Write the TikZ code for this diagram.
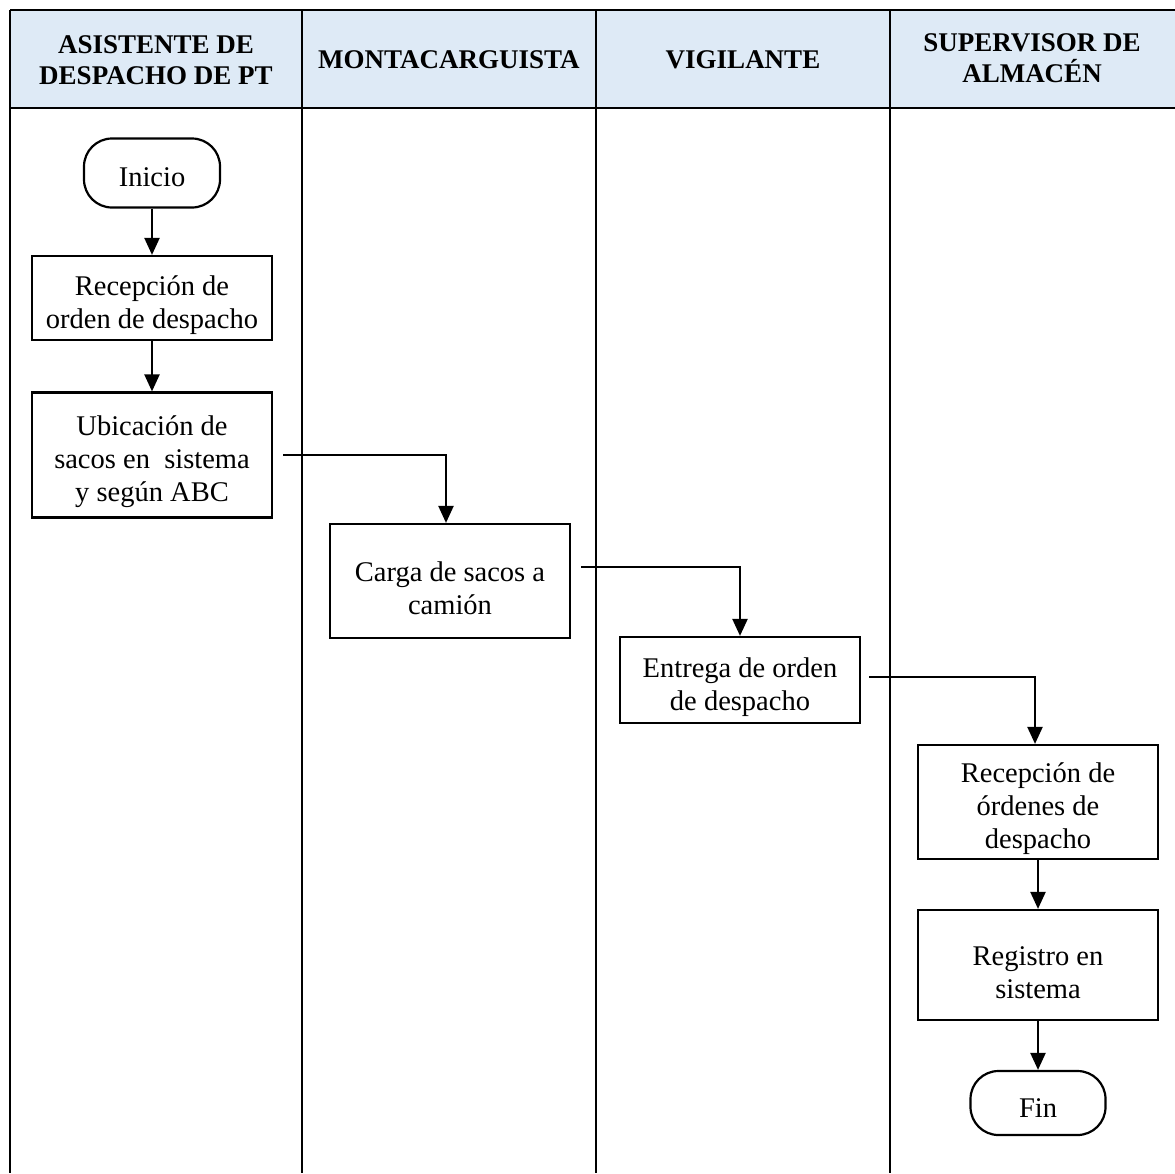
\documentclass[tikz,border=0pt]{standalone}
\usepackage{fontspec}
\setmainfont{Liberation Serif}
\usetikzlibrary{arrows.meta,calc}
\definecolor{hdr}{HTML}{DEEAF6}
\newcommand{\lowstrut}{\rule{0pt}{34pt}}
\tikzset{
  lane/.style={line width=2pt},
  hdrtext/.style={font=\fontsize{27}{31}\selectfont\bfseries, align=center},
  proc/.style={draw, line width=2.2pt, minimum width=240pt, align=center, font=\fontsize{28.5}{33}\selectfont, inner sep=0pt},
  term/.style={draw, line width=2.2pt, rounded corners=28pt, minimum width=136pt, minimum height=69pt, font=\fontsize{28.5}{33}\selectfont, execute at begin node=\rule{0pt}{28pt}},
  flow/.style={line width=2.2pt, -{Triangle[length=17pt,width=15pt]}}
}
\begin{document}
\begin{tikzpicture}[x=1pt,y=-1pt]
\useasboundingbox (0,0) rectangle (1175,1173);
% header
\fill[hdr] (10,10) rectangle (1175,108);
\draw[lane] (10,10) -- (1175,10);
\draw[lane] (10,108) -- (1175,108);
\draw[lane] (10,10) -- (10,1173);
\draw[lane] (302,10) -- (302,1173);
\draw[lane] (596,10) -- (596,1173);
\draw[lane] (890,10) -- (890,1173);
\node[hdrtext] (h1) at (156,60) {ASISTENTE DE\\DESPACHO DE PT};
\node[hdrtext] (h2) at (449,60) {MONTACARGUISTA};
\node[hdrtext] (h3) at (743,60) {VIGILANTE};
\node[hdrtext] (h4) at (1032,58) {SUPERVISOR DE\\ALMACÉN};
% nodes
\node[term] (ini) at (152,173) {Inicio};
\node[proc, minimum height=84pt] (rec) at (152,298) {\lowstrut Recepción de\\orden de despacho};
\node[proc, minimum height=125pt] (ubi) at (152,455) {\lowstrut Ubicación de\\sacos en\ \ sistema\\y según ABC};
\node[proc, minimum height=114pt] (car) at (450,581) {\lowstrut Carga de sacos a\\camión};
\node[proc, minimum height=86pt] (ent) at (740,680) {\lowstrut Entrega de orden\\de despacho};
\node[proc, minimum height=114pt] (ord) at (1038,802) {\lowstrut Recepción de\\órdenes de\\despacho};
\node[proc, minimum height=110pt] (reg) at (1038,965) {\lowstrut Registro en\\sistema};
\node[term, minimum width=135pt, minimum height=64pt] (fin) at (1038,1103) {Fin};
% connectors
\draw[flow] (ini) -- (rec);
\draw[flow] (rec) -- (ubi);
\draw[flow, shorten <=10pt] (ubi.east) -| ([xshift=-4pt]car.north);
\draw[flow, shorten <=10pt] ([yshift=14pt]car.east) -| (ent.north);
\draw[flow, shorten <=8pt] ([yshift=3pt]ent.east) -| ([xshift=-3pt]ord.north);
\draw[flow] (ord) -- (reg);
\draw[flow] (reg) -- (fin);
\end{tikzpicture}
\end{document}
